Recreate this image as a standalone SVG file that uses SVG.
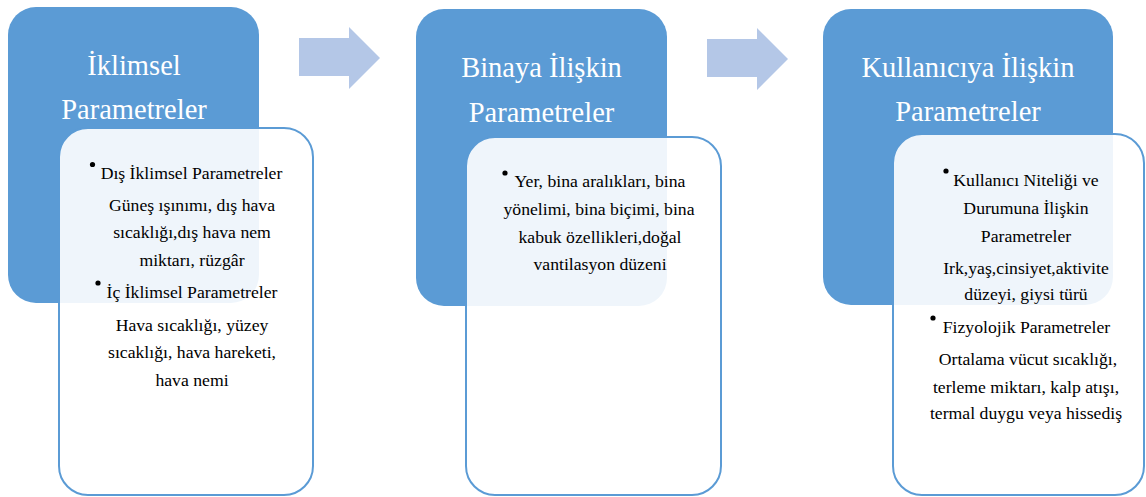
<svg xmlns="http://www.w3.org/2000/svg" width="1146" height="497" viewBox="0 0 1146 497">
<style>
.hdr{fill:#5b9bd5}
.card{fill:#ffffff;fill-opacity:0.9;stroke:#5b9bd5;stroke-width:2}
.arrow{fill:#b4c7e7}
.title{font-size:28.5px;fill:#ffffff;text-anchor:middle}
.body{font-size:17.7px;fill:#000000;text-anchor:middle}
.dot{fill:#000000}
</style>
<rect width="1146" height="497" fill="#ffffff"/>
<g id="connectors">
<polygon class="arrow" points="299,38 349,38 349,27 380,58 349,89 349,76 299,76"/>
<polygon class="arrow" points="707,39 757,39 757,28 788,59 757,90 757,77 707,77"/>
</g>
<g font-family="Liberation Serif, Tinos, DejaVu Serif, serif">
<g id="node-iklimsel">
<rect class="hdr" x="8" y="7" width="251" height="296" rx="28"/>
<text class="title" x="134" y="75">İklimsel</text>
<text class="title" x="134" y="119">Parametreler</text>
<rect class="card" x="59" y="128" width="254" height="367" rx="29"/>
<circle class="dot" cx="92.5" cy="164.5" r="2.6"/>
<text class="body" x="191.5" y="179">Dış İklimsel Parametreler</text>
<text class="body" x="192" y="211">Güneş ışınımı, dış hava</text>
<text class="body" x="192" y="238">sıcaklığı,dış hava nem</text>
<text class="body" x="192" y="266">miktarı, rüzgâr</text>
<circle class="dot" cx="98" cy="283" r="2.6"/>
<text class="body" x="192" y="298">İç İklimsel Parametreler</text>
<text class="body" x="192" y="331">Hava sıcaklığı, yüzey</text>
<text class="body" x="192" y="358">sıcaklığı, hava hareketi,</text>
<text class="body" x="192" y="386">hava nemi</text>
</g>
<g id="node-binaya">
<rect class="hdr" x="416" y="9" width="251" height="297" rx="28"/>
<text class="title" x="541.5" y="77">Binaya İlişkin</text>
<text class="title" x="541.5" y="122">Parametreler</text>
<rect class="card" x="466" y="137" width="255" height="358" rx="29"/>
<circle class="dot" cx="505" cy="173" r="2.6"/>
<text class="body" x="600" y="187">Yer, bina aralıkları, bina</text>
<text class="body" x="599" y="215">yönelimi, bina biçimi, bina</text>
<text class="body" x="600" y="243">kabuk özellikleri,doğal</text>
<text class="body" x="600" y="270">vantilasyon düzeni</text>
</g>
<g id="node-kullaniciya">
<rect class="hdr" x="823" y="9" width="290" height="296" rx="28"/>
<text class="title" x="968" y="77">Kullanıcıya İlişkin</text>
<text class="title" x="968" y="121">Parametreler</text>
<rect class="card" x="893" y="134" width="251" height="361" rx="29"/>
<circle class="dot" cx="946" cy="171" r="2.6"/>
<text class="body" x="1026" y="186">Kullanıcı Niteliği ve</text>
<text class="body" x="1026" y="214">Durumuna İlişkin</text>
<text class="body" x="1026" y="242">Parametreler</text>
<text class="body" x="1026" y="274">Irk,yaş,cinsiyet,aktivite</text>
<text class="body" x="1026" y="300">düzeyi, giysi türü</text>
<circle class="dot" cx="933" cy="318" r="2.6"/>
<text class="body" x="1026.5" y="333">Fizyolojik Parametreler</text>
<text class="body" x="1028" y="365">Ortalama vücut sıcaklığı,</text>
<text class="body" x="1026" y="393">terleme miktarı, kalp atışı,</text>
<text class="body" x="1026" y="419">termal duygu veya hissediş</text>
</g>
</g>
</svg>
